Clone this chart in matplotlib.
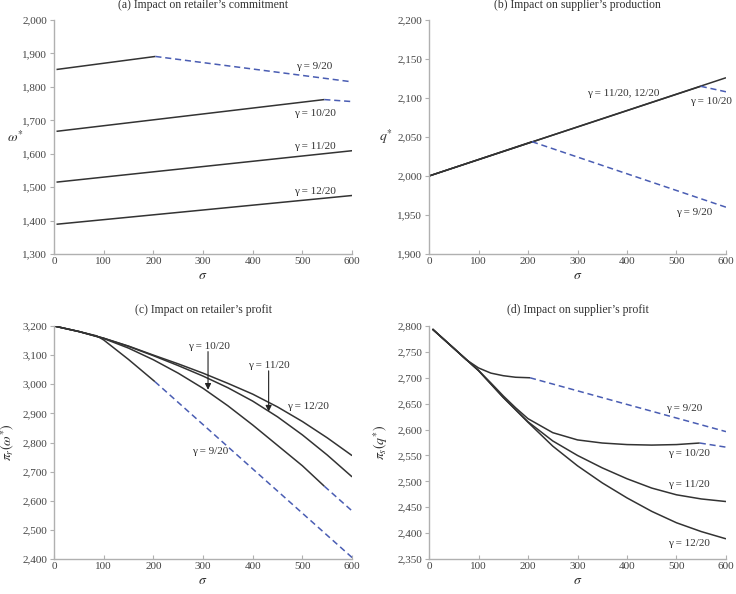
import matplotlib
matplotlib.use('Agg')
from matplotlib import pyplot as plt
from matplotlib.ticker import FuncFormatter

plt.rcParams['font.family'] = ['Liberation Serif', 'DejaVu Serif']
plt.rcParams['mathtext.fontset'] = 'stix'

BLACK = '#333333'
BLUE = '#4a5db3'

# (a) retailer's commitment w*
a9_solid_x, a9_solid_y = [5, 204], [1852, 1891]
a9_dash_x, a9_dash_y = [204, 600], [1891, 1815]
a10_solid_x, a10_solid_y = [5, 544], [1667, 1762]
a10_dash_x, a10_dash_y = [544, 600], [1762, 1756]
a11_x, a11_y = [5, 600], [1515, 1609]
a12_x, a12_y = [5, 600], [1389, 1475]

# (b) supplier's production q*
b9_solid_x, b9_solid_y = [0, 208], [2000, 2044]
b9_dash_x, b9_dash_y = [208, 600], [2044, 1960]
b10_solid_x, b10_solid_y = [0, 549], [2000, 2115]
b10_dash_x, b10_dash_y = [549, 600], [2115, 2108]
b1112_x, b1112_y = [0, 600], [2000, 2126]

# (c) retailer's profit
c_sigma = [0, 50, 100, 150, 200, 250, 300, 350, 400, 450, 500, 550, 600]
c12 = [3200, 3181, 3158, 3131, 3100, 3070, 3038, 3003, 2966, 2922, 2872, 2816, 2755]
c11 = [3200, 3181, 3158, 3130, 3098, 3064, 3028, 2988, 2942, 2888, 2826, 2757, 2682]
c10_sigma = [0, 50, 100, 150, 200, 250, 300, 350, 400, 450, 500, 544]
c10 = [3200, 3181, 3157, 3124, 3084, 3038, 2986, 2926, 2860, 2790, 2720, 2650]
c10_dash_x, c10_dash_y = [544, 600], [2650, 2565]
c9_sigma = [0, 50, 86, 100, 150, 203]
c9 = [3200, 3181, 3166, 3152, 3085, 3009]
c9_dash_x, c9_dash_y = [203, 600], [3009, 2405]

# (d) supplier's profit
d_sigma = [7, 50, 100, 150, 200, 250, 300, 350, 400, 450, 500, 550, 600]
d12 = [2794, 2757, 2714, 2662, 2614, 2568, 2530, 2497, 2468, 2442, 2420, 2403, 2389]
d11 = [2794, 2757, 2714, 2662, 2615, 2578, 2550, 2526, 2505, 2487, 2474, 2466, 2461]
d10_sigma = [7, 50, 100, 125, 150, 175, 200, 250, 300, 350, 400, 450, 500, 547]
d10 = [2794, 2757, 2714, 2690, 2665, 2642, 2621, 2594, 2580, 2574, 2571, 2570, 2571, 2574]
d10_dash_x, d10_dash_y = [547, 600], [2574, 2566]
d9_sigma = [7, 50, 75, 100, 125, 150, 175, 204]
d9 = [2794, 2757, 2735, 2719, 2709, 2704, 2701, 2700]
d9_dash_x, d9_dash_y = [204, 600], [2700, 2596]


def solid(ax, x, y):
    ax.plot(x, y, color=BLACK, lw=1.1, solid_capstyle='butt')


def dashed(ax, x, y):
    ax.plot(x, y, color=BLUE, lw=1.1, dashes=(4, 2.5))


def style(ax, title, ylim, step, ylabel, ylabel_x, rot):
    ax.set_xlim(0, 600)
    ax.set_ylim(*ylim)
    ax.set_xticks(range(0, 601, 100))
    ax.set_yticks(range(ylim[0], ylim[1] + 1, step))
    ax.yaxis.set_major_formatter(FuncFormatter(lambda v, p: f'{v:,.0f}'))
    for s in ['top', 'right']:
        ax.spines[s].set_visible(False)
    for s in ['left', 'bottom']:
        ax.spines[s].set_color('#b0b0b0')
        ax.spines[s].set_linewidth(1.0)
    ax.tick_params(axis='x', direction='in', length=3, color='#b0b0b0',
                   labelsize=8, labelcolor='#444444', pad=2)
    ax.tick_params(axis='y', direction='out', length=3, color='#b0b0b0',
                   labelsize=8, labelcolor='#444444', pad=2)
    ax.set_title(title, fontsize=8.5, color='#333333', pad=9)
    ax.set_xlabel(r'$\sigma$', fontsize=10, color='#333333', labelpad=2)
    if rot == 0:
        ax.set_ylabel(ylabel, fontsize=10, color='#333333', rotation=0,
                      va='center', ha='center')
    else:
        ax.set_ylabel(ylabel, fontsize=10, color='#333333', rotation=90)
    ax.yaxis.set_label_coords(ylabel_x, 0.5)


def label(ax, x, y, s):
    ax.text(x, y, s, fontsize=8, color='#333333', ha='center', va='center')


fig = plt.figure(figsize=(7.36, 5.94), dpi=100)
ax_a = fig.add_axes([0.0734, 0.5724, 0.405, 0.3939])
ax_b = fig.add_axes([0.5829, 0.5724, 0.4035, 0.3939])
ax_c = fig.add_axes([0.0734, 0.0589, 0.405, 0.3923])
ax_d = fig.add_axes([0.5829, 0.0589, 0.4035, 0.3923])

# (a)
solid(ax_a, a9_solid_x, a9_solid_y)
dashed(ax_a, a9_dash_x, a9_dash_y)
solid(ax_a, a10_solid_x, a10_solid_y)
dashed(ax_a, a10_dash_x, a10_dash_y)
solid(ax_a, a11_x, a11_y)
solid(ax_a, a12_x, a12_y)
label(ax_a, 523, 1860, 'γ = 9/20')
label(ax_a, 525, 1721, 'γ = 10/20')
label(ax_a, 525, 1622, 'γ = 11/20')
label(ax_a, 525, 1488, 'γ = 12/20')
style(ax_a, '(a) Impact on retailer’s commitment', (1300, 2000), 100,
      r'$\omega^{*}$', -0.13, 0)

# (b)
solid(ax_b, b1112_x, b1112_y)
solid(ax_b, b10_solid_x, b10_solid_y)
solid(ax_b, b9_solid_x, b9_solid_y)
dashed(ax_b, b9_dash_x, b9_dash_y)
dashed(ax_b, b10_dash_x, b10_dash_y)
label(ax_b, 392, 2106, 'γ = 11/20, 12/20')
label(ax_b, 570, 2096, 'γ = 10/20')
label(ax_b, 535, 1953, 'γ = 9/20')
style(ax_b, '(b) Impact on supplier’s production', (1900, 2200), 50,
      r'$q^{*}$', -0.145, 0)

# (c)
solid(ax_c, c_sigma, c12)
solid(ax_c, c_sigma, c11)
solid(ax_c, c10_sigma, c10)
dashed(ax_c, c10_dash_x, c10_dash_y)
solid(ax_c, c9_sigma, c9)
dashed(ax_c, c9_dash_x, c9_dash_y)
label(ax_c, 311, 3131, 'γ = 10/20')
label(ax_c, 432, 3066, 'γ = 11/20')
label(ax_c, 512, 2923, 'γ = 12/20')
label(ax_c, 315, 2769, 'γ = 9/20')
arrow = dict(arrowstyle='-|>', color='#222222', lw=0.8, mutation_scale=9,
             shrinkA=0, shrinkB=0)
ax_c.annotate('', xy=(310, 2981), xytext=(310, 3112), arrowprops=arrow)
ax_c.annotate('', xy=(432, 2906), xytext=(432, 3046), arrowprops=arrow)
style(ax_c, '(c) Impact on retailer’s profit', (2400, 3200), 100,
      r'$\pi_r(\omega^{*})$', -0.125, 90)

# (d)
solid(ax_d, d_sigma, d12)
solid(ax_d, d_sigma, d11)
solid(ax_d, d10_sigma, d10)
dashed(ax_d, d10_dash_x, d10_dash_y)
solid(ax_d, d9_sigma, d9)
dashed(ax_d, d9_dash_x, d9_dash_y)
label(ax_d, 516, 2640, 'γ = 9/20')
label(ax_d, 525, 2554, 'γ = 10/20')
label(ax_d, 525, 2493, 'γ = 11/20')
label(ax_d, 525, 2380, 'γ = 12/20')
style(ax_d, '(d) Impact on supplier’s profit', (2350, 2800), 50,
      r'$\pi_s(q^{*})$', -0.13, 90)

plt.savefig('out.png', dpi=100)
